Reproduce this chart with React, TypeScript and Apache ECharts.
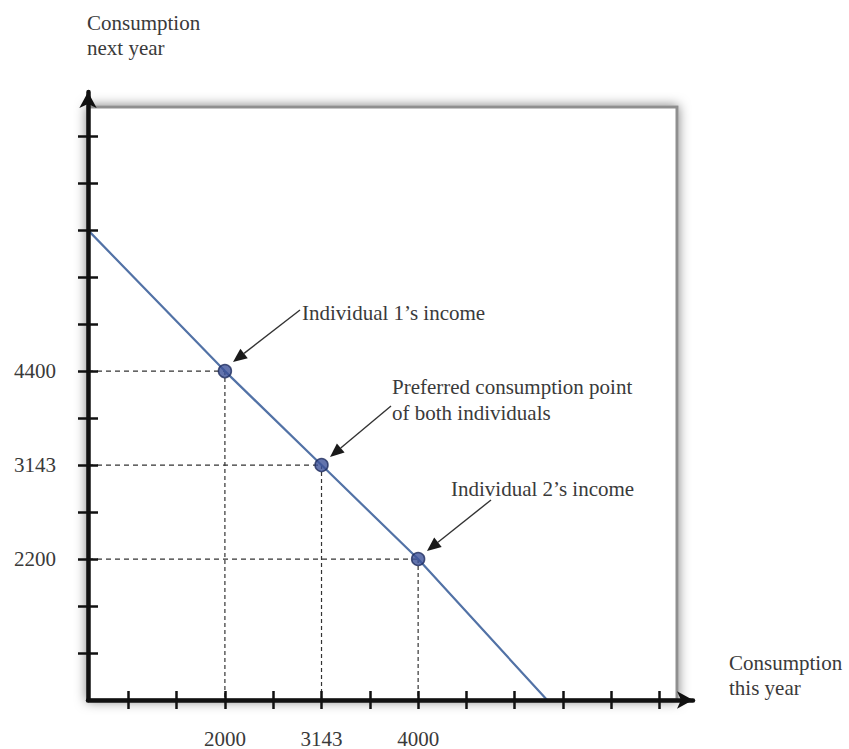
import React, { useEffect, useRef } from "react";
import * as echarts from "echarts";

// Diagram is not to scale: axes are in "tick units" (one unit per tick mark)
const X_MIN = 0.166;
const X_MAX = 12.69;
const Y_MIN = 0;
const Y_MAX = 12.94;

const xTicks = [1, 2, 3, 4, 5, 6, 7, 8, 9, 10, 11, 12];
const yTicks = [1, 2, 3, 4, 5, 6, 7, 8, 9, 10, 11, 12];

const xLabelPos = [3, 5, 7];
const xLabelText = ["2000", "3143", "4000"];
const yLabelPos = [3, 5, 7];
const yLabelText = ["2200", "3143", "4400"];

// budget line (tick units)
const budgetX = [0.166, 3, 5, 7, 9.67];
const budgetY = [10, 7, 5, 3, 0];

// marked points: Individual 1, preferred point, Individual 2
const pointX = [3, 5, 7];
const pointY = [7, 5, 3];

const FONT = '"Liberation Serif", "Times New Roman", serif';
const TXT = "#3a3a3a";

function arrow(x1: number, y1: number, x2: number, y2: number) {
  const ang = Math.atan2(y2 - y1, x2 - x1);
  const L = 14;
  const W = 6;
  const bx = x2 - L * Math.cos(ang);
  const by = y2 - L * Math.sin(ang);
  const px = -Math.sin(ang) * W;
  const py = Math.cos(ang) * W;
  return [
    {
      type: "line",
      shape: { x1, y1, x2: bx, y2: by },
      style: { stroke: "#333", lineWidth: 1.4 },
      z: 20,
    },
    {
      type: "polygon",
      shape: {
        points: [
          [x2, y2],
          [bx + px, by + py],
          [bx - px, by - py],
        ],
      },
      style: { fill: "#1a1a1a" },
      z: 20,
    },
  ];
}

export default function App() {
  const ref = useRef<HTMLDivElement>(null);
  useEffect(() => {
    document.body.style.margin = "0";
    const chart = echarts.init(ref.current!, null, { renderer: "svg" });

    const guides: any[] = [];
    pointX.forEach((px, i) => {
      const py = pointY[i];
      guides.push({
        type: "line",
        data: [
          [X_MIN, py],
          [px, py],
        ],
        symbol: "none",
        silent: true,
        lineStyle: { color: "#333", width: 1.2, type: [5, 4] },
        z: 3,
      });
      guides.push({
        type: "line",
        data: [
          [px, py],
          [px, 0],
        ],
        symbol: "none",
        silent: true,
        lineStyle: { color: "#333", width: 1.2, type: [4, 3] },
        z: 3,
      });
    });

    const axisLineStyle = {
      color: "#111",
      width: 4.5,
    };

    chart.setOption({
      animation: false,
      textStyle: { fontFamily: FONT },
      grid: { left: 88, right: 156, top: 92, bottom: 49 },
      xAxis: [
        {
          type: "value",
          z: 10,
          min: X_MIN,
          max: X_MAX,
          axisLine: {
            show: true,
            onZero: false,
            symbol: ["none", "arrow"],
            symbolSize: [13, 16],
            lineStyle: axisLineStyle,
          },
          axisTick: {
            show: true,
            length: 9,
            customValues: xTicks,
            lineStyle: { color: "#111", width: 2.5 },
          },
          axisLabel: {
            show: true,
            customValues: xLabelPos,
            margin: 28,
            fontSize: 21,
            fontFamily: FONT,
            color: TXT,
            formatter: (v: number) => {
              const i = xLabelPos.indexOf(Math.round(v));
              return i >= 0 ? xLabelText[i] : "";
            },
          },
          splitLine: { show: false },
        },
        {
          type: "value",
          z: 10,
          position: "bottom",
          min: X_MIN,
          max: X_MAX,
          axisLine: { show: false, onZero: false },
          axisTick: {
            show: true,
            inside: true,
            length: 9,
            customValues: xTicks,
            lineStyle: { color: "#111", width: 2.5 },
          },
          axisLabel: { show: false },
          splitLine: { show: false },
        },
      ],
      yAxis: [
        {
          type: "value",
          z: 10,
          min: Y_MIN,
          max: Y_MAX,
          axisLine: {
            show: true,
            onZero: false,
            symbol: ["none", "arrow"],
            symbolSize: [13, 16],
            lineStyle: axisLineStyle,
          },
          axisTick: {
            show: true,
            length: 10,
            customValues: yTicks,
            lineStyle: { color: "#111", width: 2.5 },
          },
          axisLabel: {
            show: true,
            customValues: yLabelPos,
            margin: 32,
            fontSize: 21,
            fontFamily: FONT,
            color: TXT,
            formatter: (v: number) => {
              const i = yLabelPos.indexOf(Math.round(v));
              return i >= 0 ? yLabelText[i] : "";
            },
          },
          splitLine: { show: false },
        },
        {
          type: "value",
          z: 10,
          position: "left",
          min: Y_MIN,
          max: Y_MAX,
          axisLine: { show: false, onZero: false },
          axisTick: {
            show: true,
            inside: true,
            length: 10,
            customValues: yTicks,
            lineStyle: { color: "#111", width: 2.5 },
          },
          axisLabel: { show: false },
          splitLine: { show: false },
        },
      ],
      graphic: [
        {
          type: "rect",
          z: -10,
          silent: true,
          shape: { x: 88, y: 107, width: 589, height: 593 },
          style: {
            fill: "#fff",
            stroke: "#8f8f8f",
            lineWidth: 3,
            shadowBlur: 12,
            shadowColor: "rgba(0,0,0,0.5)",
          },
        },
        {
          type: "text",
          x: 87,
          y: 10,
          z: 20,
          style: {
            text: "Consumption\nnext year",
            font: `21px ${FONT}`,
            fill: TXT,
            lineHeight: 25,
          },
        },
        {
          type: "text",
          x: 729,
          y: 650,
          z: 20,
          style: {
            text: "Consumption\nthis year",
            font: `21px ${FONT}`,
            fill: TXT,
            lineHeight: 25,
          },
        },
        {
          type: "text",
          x: 302,
          y: 300,
          z: 20,
          style: {
            text: "Individual 1’s income",
            font: `21px ${FONT}`,
            fill: TXT,
            lineHeight: 25,
          },
        },
        {
          type: "text",
          x: 392,
          y: 374,
          z: 20,
          style: {
            text: "Preferred consumption point\nof both individuals",
            font: `21px ${FONT}`,
            fill: TXT,
            lineHeight: 26,
          },
        },
        {
          type: "text",
          x: 451,
          y: 476,
          z: 20,
          style: {
            text: "Individual 2’s income",
            font: `21px ${FONT}`,
            fill: TXT,
            lineHeight: 25,
          },
        },
        ...arrow(300, 310, 233, 362),
        ...arrow(391, 406, 330, 457),
        ...arrow(491, 500, 427, 551),
      ],
      series: [
        ...guides,
        {
          type: "line",
          data: budgetX.map((x, i) => [x, budgetY[i]]),
          symbol: "none",
          silent: true,
          lineStyle: { color: "#5272a6", width: 2.2 },
          z: 4,
        },
        {
          type: "scatter",
          data: pointX.map((x, i) => [x, pointY[i]]),
          symbolSize: 13,
          itemStyle: {
            color: "#3c5198",
            borderColor: "#1f2d5e",
            borderWidth: 1.5,
          },
          z: 6,
        },
      ],
    });
    return () => chart.dispose();
  }, []);
  return <div ref={ref} style={{ width: 849, height: 749 }} />;
}
